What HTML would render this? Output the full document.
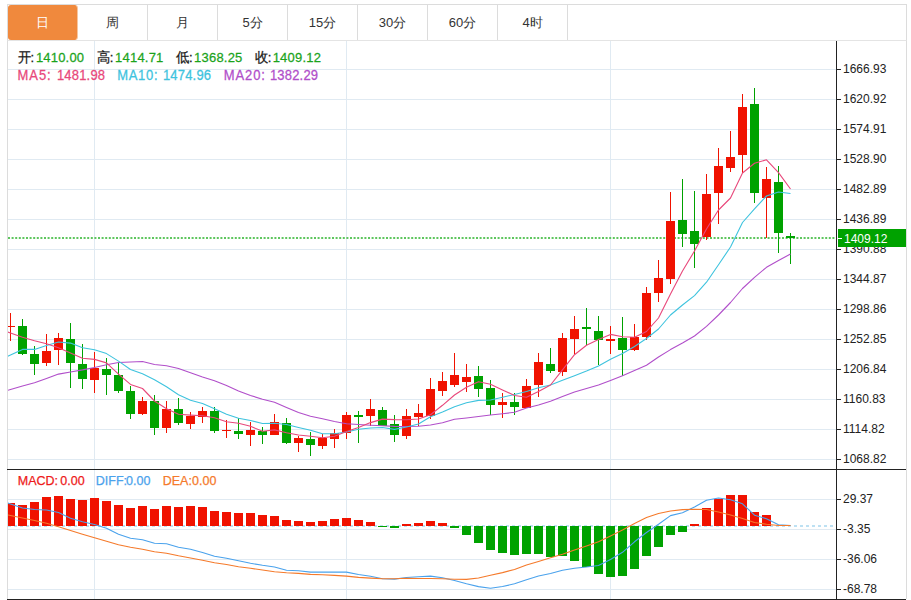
<!DOCTYPE html>
<html><head><meta charset="utf-8"><style>
html,body{margin:0;padding:0;background:#fff;width:911px;height:600px;overflow:hidden;}
body{position:relative;font-family:"Liberation Sans",sans-serif;}
svg{position:absolute;left:0;top:0;}
.tabs{position:absolute;left:7px;top:4px;width:898px;height:35px;border:1px solid #dcdcdc;border-bottom:1px solid #e4e4e4;}
.tab{position:absolute;top:0;height:35px;width:69px;border-right:1px solid #dcdcdc;font-size:13px;color:#333;text-align:center;line-height:35px;}
.tab.on{background:#f0893d;color:#fff;border-radius:3px;border-right-color:#f6c6a0;background-clip:padding-box;}
.panel{position:absolute;left:7px;top:40px;width:898px;height:559px;border-left:1px solid #dcdcdc;border-right:1px solid #dcdcdc;}
.ax{position:absolute;left:843px;font-size:12px;line-height:14px;color:#222;white-space:nowrap;}
.t{position:absolute;font-size:13px;line-height:15px;white-space:nowrap;-webkit-text-stroke:0.25px currentColor;} .g,.v{letter-spacing:0.2px}
.k{color:#1a1a1a} .g{color:#1ba31b} .m{top:474px;font-size:12.5px}
</style></head><body>
<div class="panel"></div>
<svg width="911" height="600" viewBox="0 0 911 600">
<defs><clipPath id="cp"><rect x="8" y="41" width="828" height="558"/></clipPath></defs>
<rect x="8" y="69" width="828" height="1" fill="#e0eaf2"/><rect x="8" y="99" width="828" height="1" fill="#e0eaf2"/><rect x="8" y="129" width="828" height="1" fill="#e0eaf2"/><rect x="8" y="159" width="828" height="1" fill="#e0eaf2"/><rect x="8" y="189" width="828" height="1" fill="#e0eaf2"/><rect x="8" y="219" width="828" height="1" fill="#e0eaf2"/><rect x="8" y="249" width="828" height="1" fill="#e0eaf2"/><rect x="8" y="279" width="828" height="1" fill="#e0eaf2"/><rect x="8" y="309" width="828" height="1" fill="#e0eaf2"/><rect x="8" y="339" width="828" height="1" fill="#e0eaf2"/><rect x="8" y="369" width="828" height="1" fill="#e0eaf2"/><rect x="8" y="399" width="828" height="1" fill="#e0eaf2"/><rect x="8" y="429" width="828" height="1" fill="#e0eaf2"/><rect x="8" y="459" width="828" height="1" fill="#e0eaf2"/><rect x="8" y="499" width="828" height="1" fill="#e0eaf2"/><rect x="8" y="529" width="828" height="1" fill="#e0eaf2"/><rect x="8" y="559" width="828" height="1" fill="#e0eaf2"/><rect x="8" y="589" width="828" height="1" fill="#e0eaf2"/><rect x="94" y="41" width="1" height="558" fill="#e0eaf2"/><rect x="346" y="41" width="1" height="558" fill="#e0eaf2"/><rect x="610" y="41" width="1" height="558" fill="#e0eaf2"/><line x1="8" y1="238" x2="836" y2="238" stroke="#5ec65e" stroke-width="2" stroke-dasharray="2 1.6"/><line x1="8" y1="526" x2="836" y2="526" stroke="#a8d8f0" stroke-width="1.5" stroke-dasharray="3 3"/><g clip-path="url(#cp)" shape-rendering="crispEdges"><rect x="10" y="313" width="1" height="28" fill="#f01200"/><rect x="6" y="326" width="9" height="1" fill="#f01200"/><rect x="22" y="319" width="1" height="36" fill="#00a200"/><rect x="18" y="326" width="9" height="28" fill="#00a200"/><rect x="34" y="346" width="1" height="29" fill="#00a200"/><rect x="30" y="354" width="9" height="10" fill="#00a200"/><rect x="46" y="334" width="1" height="32" fill="#f01200"/><rect x="42" y="351" width="9" height="12" fill="#f01200"/><rect x="58" y="333" width="1" height="32" fill="#f01200"/><rect x="54" y="338" width="9" height="12" fill="#f01200"/><rect x="70" y="323" width="1" height="65" fill="#00a200"/><rect x="66" y="339" width="9" height="24" fill="#00a200"/><rect x="82" y="344" width="1" height="45" fill="#00a200"/><rect x="78" y="364" width="9" height="15" fill="#00a200"/><rect x="94" y="352" width="1" height="41" fill="#f01200"/><rect x="90" y="368" width="9" height="12" fill="#f01200"/><rect x="106" y="358" width="1" height="37" fill="#00a200"/><rect x="102" y="369" width="9" height="6" fill="#00a200"/><rect x="118" y="362" width="1" height="31" fill="#00a200"/><rect x="114" y="375" width="9" height="16" fill="#00a200"/><rect x="130" y="386" width="1" height="33" fill="#00a200"/><rect x="126" y="391" width="9" height="23" fill="#00a200"/><rect x="142" y="397" width="1" height="18" fill="#f01200"/><rect x="138" y="401" width="9" height="13" fill="#f01200"/><rect x="154" y="395" width="1" height="40" fill="#00a200"/><rect x="150" y="401" width="9" height="27" fill="#00a200"/><rect x="166" y="401" width="1" height="32" fill="#f01200"/><rect x="162" y="409" width="9" height="19" fill="#f01200"/><rect x="178" y="398" width="1" height="27" fill="#00a200"/><rect x="174" y="409" width="9" height="14" fill="#00a200"/><rect x="190" y="412" width="1" height="17" fill="#f01200"/><rect x="186" y="416" width="9" height="8" fill="#f01200"/><rect x="202" y="407" width="1" height="16" fill="#f01200"/><rect x="198" y="411" width="9" height="6" fill="#f01200"/><rect x="214" y="407" width="1" height="26" fill="#00a200"/><rect x="210" y="411" width="9" height="20" fill="#00a200"/><rect x="226" y="420" width="1" height="18" fill="#f01200"/><rect x="222" y="430" width="9" height="1" fill="#f01200"/><rect x="238" y="418" width="1" height="21" fill="#00a200"/><rect x="234" y="431" width="9" height="3" fill="#00a200"/><rect x="250" y="422" width="1" height="24" fill="#f01200"/><rect x="246" y="430" width="9" height="5" fill="#f01200"/><rect x="262" y="427" width="1" height="17" fill="#00a200"/><rect x="258" y="431" width="9" height="4" fill="#00a200"/><rect x="274" y="414" width="1" height="21" fill="#f01200"/><rect x="270" y="422" width="9" height="13" fill="#f01200"/><rect x="286" y="418" width="1" height="26" fill="#00a200"/><rect x="282" y="423" width="9" height="20" fill="#00a200"/><rect x="298" y="436" width="1" height="16" fill="#f01200"/><rect x="294" y="438" width="9" height="5" fill="#f01200"/><rect x="310" y="432" width="1" height="24" fill="#00a200"/><rect x="306" y="439" width="9" height="6" fill="#00a200"/><rect x="322" y="434" width="1" height="15" fill="#f01200"/><rect x="318" y="438" width="9" height="8" fill="#f01200"/><rect x="334" y="429" width="1" height="19" fill="#f01200"/><rect x="330" y="433" width="9" height="6" fill="#f01200"/><rect x="346" y="412" width="1" height="27" fill="#f01200"/><rect x="342" y="415" width="9" height="18" fill="#f01200"/><rect x="358" y="411" width="1" height="32" fill="#00a200"/><rect x="354" y="415" width="9" height="2" fill="#00a200"/><rect x="370" y="399" width="1" height="27" fill="#f01200"/><rect x="366" y="409" width="9" height="7" fill="#f01200"/><rect x="382" y="407" width="1" height="19" fill="#00a200"/><rect x="378" y="410" width="9" height="16" fill="#00a200"/><rect x="394" y="415" width="1" height="27" fill="#00a200"/><rect x="390" y="424" width="9" height="11" fill="#00a200"/><rect x="406" y="409" width="1" height="30" fill="#f01200"/><rect x="402" y="416" width="9" height="20" fill="#f01200"/><rect x="418" y="404" width="1" height="22" fill="#f01200"/><rect x="414" y="413" width="9" height="4" fill="#f01200"/><rect x="430" y="378" width="1" height="41" fill="#f01200"/><rect x="426" y="389" width="9" height="27" fill="#f01200"/><rect x="442" y="372" width="1" height="24" fill="#f01200"/><rect x="438" y="381" width="9" height="10" fill="#f01200"/><rect x="454" y="353" width="1" height="34" fill="#f01200"/><rect x="450" y="375" width="9" height="10" fill="#f01200"/><rect x="466" y="364" width="1" height="28" fill="#f01200"/><rect x="462" y="377" width="9" height="5" fill="#f01200"/><rect x="478" y="366" width="1" height="31" fill="#00a200"/><rect x="474" y="376" width="9" height="13" fill="#00a200"/><rect x="490" y="380" width="1" height="35" fill="#00a200"/><rect x="486" y="388" width="9" height="17" fill="#00a200"/><rect x="502" y="393" width="1" height="25" fill="#f01200"/><rect x="498" y="402" width="9" height="3" fill="#f01200"/><rect x="514" y="393" width="1" height="22" fill="#00a200"/><rect x="510" y="402" width="9" height="5" fill="#00a200"/><rect x="526" y="379" width="1" height="29" fill="#f01200"/><rect x="522" y="386" width="9" height="22" fill="#f01200"/><rect x="538" y="353" width="1" height="44" fill="#f01200"/><rect x="534" y="362" width="9" height="23" fill="#f01200"/><rect x="550" y="348" width="1" height="25" fill="#00a200"/><rect x="546" y="364" width="9" height="7" fill="#00a200"/><rect x="562" y="333" width="1" height="43" fill="#f01200"/><rect x="558" y="338" width="9" height="34" fill="#f01200"/><rect x="574" y="316" width="1" height="38" fill="#f01200"/><rect x="570" y="329" width="9" height="10" fill="#f01200"/><rect x="586" y="308" width="1" height="37" fill="#00a200"/><rect x="582" y="327" width="9" height="2" fill="#00a200"/><rect x="598" y="316" width="1" height="49" fill="#00a200"/><rect x="594" y="331" width="9" height="9" fill="#00a200"/><rect x="610" y="326" width="1" height="28" fill="#f01200"/><rect x="606" y="339" width="9" height="2" fill="#f01200"/><rect x="622" y="317" width="1" height="59" fill="#00a200"/><rect x="618" y="338" width="9" height="12" fill="#00a200"/><rect x="634" y="324" width="1" height="27" fill="#f01200"/><rect x="630" y="337" width="9" height="13" fill="#f01200"/><rect x="646" y="287" width="1" height="53" fill="#f01200"/><rect x="642" y="293" width="9" height="44" fill="#f01200"/><rect x="658" y="260" width="1" height="42" fill="#f01200"/><rect x="654" y="278" width="9" height="15" fill="#f01200"/><rect x="670" y="192" width="1" height="92" fill="#f01200"/><rect x="666" y="221" width="9" height="58" fill="#f01200"/><rect x="682" y="179" width="1" height="68" fill="#00a200"/><rect x="678" y="220" width="9" height="14" fill="#00a200"/><rect x="694" y="191" width="1" height="77" fill="#00a200"/><rect x="690" y="231" width="9" height="13" fill="#00a200"/><rect x="706" y="174" width="1" height="66" fill="#f01200"/><rect x="702" y="194" width="9" height="43" fill="#f01200"/><rect x="718" y="148" width="1" height="76" fill="#f01200"/><rect x="714" y="166" width="9" height="27" fill="#f01200"/><rect x="730" y="131" width="1" height="41" fill="#f01200"/><rect x="726" y="157" width="9" height="11" fill="#f01200"/><rect x="742" y="94" width="1" height="79" fill="#f01200"/><rect x="738" y="107" width="9" height="48" fill="#f01200"/><rect x="754" y="88" width="1" height="115" fill="#00a200"/><rect x="750" y="104" width="9" height="89" fill="#00a200"/><rect x="766" y="167" width="1" height="71" fill="#f01200"/><rect x="762" y="179" width="9" height="19" fill="#f01200"/><rect x="778" y="166" width="1" height="87" fill="#00a200"/><rect x="774" y="182" width="9" height="51" fill="#00a200"/><rect x="790" y="233" width="1" height="31" fill="#00a200"/><rect x="786" y="236" width="9" height="2" fill="#00a200"/><rect x="6" y="503" width="9" height="23" fill="#f01200"/><rect x="18" y="505" width="9" height="21" fill="#f01200"/><rect x="30" y="502" width="9" height="24" fill="#f01200"/><rect x="42" y="497" width="9" height="29" fill="#f01200"/><rect x="54" y="496" width="9" height="30" fill="#f01200"/><rect x="66" y="499" width="9" height="27" fill="#f01200"/><rect x="78" y="500" width="9" height="26" fill="#f01200"/><rect x="90" y="498" width="9" height="28" fill="#f01200"/><rect x="102" y="501" width="9" height="25" fill="#f01200"/><rect x="114" y="505" width="9" height="21" fill="#f01200"/><rect x="126" y="508" width="9" height="18" fill="#f01200"/><rect x="138" y="506" width="9" height="20" fill="#f01200"/><rect x="150" y="509" width="9" height="17" fill="#f01200"/><rect x="162" y="506" width="9" height="20" fill="#f01200"/><rect x="174" y="507" width="9" height="19" fill="#f01200"/><rect x="186" y="506" width="9" height="20" fill="#f01200"/><rect x="198" y="507" width="9" height="19" fill="#f01200"/><rect x="210" y="511" width="9" height="15" fill="#f01200"/><rect x="222" y="512" width="9" height="14" fill="#f01200"/><rect x="234" y="513" width="9" height="13" fill="#f01200"/><rect x="246" y="513" width="9" height="13" fill="#f01200"/><rect x="258" y="515" width="9" height="11" fill="#f01200"/><rect x="270" y="516" width="9" height="10" fill="#f01200"/><rect x="282" y="520" width="9" height="6" fill="#f01200"/><rect x="294" y="521" width="9" height="5" fill="#f01200"/><rect x="306" y="522" width="9" height="4" fill="#f01200"/><rect x="318" y="521" width="9" height="5" fill="#f01200"/><rect x="330" y="519" width="9" height="7" fill="#f01200"/><rect x="342" y="518" width="9" height="8" fill="#f01200"/><rect x="354" y="520" width="9" height="6" fill="#f01200"/><rect x="366" y="522" width="9" height="4" fill="#f01200"/><rect x="378" y="526" width="9" height="1" fill="#00a200"/><rect x="390" y="526" width="9" height="2" fill="#00a200"/><rect x="402" y="524" width="9" height="2" fill="#f01200"/><rect x="414" y="523" width="9" height="3" fill="#f01200"/><rect x="426" y="521" width="9" height="5" fill="#f01200"/><rect x="438" y="523" width="9" height="3" fill="#f01200"/><rect x="450" y="526" width="9" height="2" fill="#00a200"/><rect x="462" y="526" width="9" height="9" fill="#00a200"/><rect x="474" y="526" width="9" height="17" fill="#00a200"/><rect x="486" y="526" width="9" height="24" fill="#00a200"/><rect x="498" y="526" width="9" height="27" fill="#00a200"/><rect x="510" y="526" width="9" height="29" fill="#00a200"/><rect x="522" y="526" width="9" height="28" fill="#00a200"/><rect x="534" y="526" width="9" height="28" fill="#00a200"/><rect x="546" y="526" width="9" height="31" fill="#00a200"/><rect x="558" y="526" width="9" height="30" fill="#00a200"/><rect x="570" y="526" width="9" height="35" fill="#00a200"/><rect x="582" y="526" width="9" height="41" fill="#00a200"/><rect x="594" y="526" width="9" height="48" fill="#00a200"/><rect x="606" y="526" width="9" height="51" fill="#00a200"/><rect x="618" y="526" width="9" height="50" fill="#00a200"/><rect x="630" y="526" width="9" height="43" fill="#00a200"/><rect x="642" y="526" width="9" height="30" fill="#00a200"/><rect x="654" y="526" width="9" height="21" fill="#00a200"/><rect x="666" y="526" width="9" height="9" fill="#00a200"/><rect x="678" y="526" width="9" height="6" fill="#00a200"/><rect x="690" y="524" width="9" height="2" fill="#f01200"/><rect x="702" y="508" width="9" height="18" fill="#f01200"/><rect x="714" y="499" width="9" height="27" fill="#f01200"/><rect x="726" y="495" width="9" height="31" fill="#f01200"/><rect x="738" y="495" width="9" height="31" fill="#f01200"/><rect x="750" y="512" width="9" height="14" fill="#f01200"/><rect x="762" y="515" width="9" height="11" fill="#f01200"/></g><g clip-path="url(#cp)"><polyline points="-1.5,393.0 10.5,389.5 22.5,386.0 34.5,382.8 46.5,378.5 58.5,374.1 70.5,372.0 82.5,369.9 94.5,367.5 106.5,364.8 118.5,362.5 130.5,362.0 142.5,361.5 154.5,364.5 166.5,365.7 178.5,368.5 190.5,372.7 202.5,376.9 214.5,380.8 226.5,385.5 238.5,390.9 250.5,395.5 262.5,399.2 274.5,402.3 286.5,407.5 298.5,412.4 310.5,416.3 322.5,418.7 334.5,421.5 346.5,423.8 358.5,424.5 370.5,425.2 382.5,425.8 394.5,426.4 406.5,426.5 418.5,426.2 430.5,425.0 442.5,422.7 454.5,419.3 466.5,418.0 478.5,416.5 490.5,415.0 502.5,413.7 514.5,412.3 526.5,408.0 538.5,405.0 550.5,401.3 562.5,396.5 574.5,392.0 586.5,388.5 598.5,385.0 610.5,380.5 622.5,375.7 634.5,370.5 646.5,365.2 658.5,357.0 670.5,349.6 682.5,343.0 694.5,336.0 706.5,326.4 718.5,315.0 730.5,302.5 742.5,288.5 754.5,277.3 766.5,267.3 778.5,260.5 790.5,254.0" fill="none" stroke="#b14fca" stroke-width="1.1" stroke-linejoin="round"/><polyline points="-1.5,360.6 10.5,355.0 22.5,349.4 34.5,349.4 46.5,345.5 58.5,342.0 70.5,343.1 82.5,347.8 94.5,349.7 106.5,353.6 118.5,361.1 130.5,369.5 142.5,373.8 154.5,379.7 166.5,386.7 178.5,394.8 190.5,400.2 202.5,403.5 214.5,408.8 226.5,414.2 238.5,418.2 250.5,420.5 262.5,423.5 274.5,423.3 286.5,424.5 298.5,427.5 310.5,430.3 322.5,433.8 334.5,433.8 346.5,432.0 358.5,429.2 370.5,428.0 382.5,427.5 394.5,429.4 406.5,427.0 418.5,424.0 430.5,416.7 442.5,412.0 454.5,406.7 466.5,402.7 478.5,400.4 490.5,400.0 502.5,397.3 514.5,394.5 526.5,391.5 538.5,387.8 550.5,385.0 562.5,380.3 574.5,375.7 586.5,371.0 598.5,365.9 610.5,359.3 622.5,353.5 634.5,346.5 646.5,338.5 658.5,329.0 670.5,315.0 682.5,305.0 694.5,295.6 706.5,282.2 718.5,264.7 730.5,247.0 742.5,222.5 754.5,208.8 766.5,196.0 778.5,192.0 790.5,193.5" fill="none" stroke="#3ec3de" stroke-width="1.1" stroke-linejoin="round"/><polyline points="-1.5,328.7 10.5,333.0 22.5,337.3 34.5,340.8 46.5,343.8 58.5,347.8 70.5,353.1 82.5,358.3 94.5,359.4 106.5,362.9 118.5,374.1 130.5,384.4 142.5,388.5 154.5,401.0 166.5,408.8 178.5,414.2 190.5,415.1 202.5,415.8 214.5,417.7 226.5,421.7 238.5,423.3 250.5,426.3 262.5,431.2 274.5,429.9 286.5,432.7 298.5,435.0 310.5,436.2 322.5,437.8 334.5,436.2 346.5,431.5 358.5,427.5 370.5,422.6 382.5,419.1 394.5,419.6 406.5,419.8 418.5,419.0 430.5,414.7 442.5,405.3 454.5,395.0 466.5,387.3 478.5,381.7 490.5,384.3 502.5,389.9 514.5,395.5 526.5,397.2 538.5,391.5 550.5,385.0 562.5,369.8 574.5,354.7 586.5,345.3 598.5,339.5 610.5,334.4 622.5,336.7 634.5,337.2 646.5,331.5 658.5,318.0 670.5,294.0 682.5,271.0 694.5,251.0 706.5,229.0 718.5,210.0 730.5,198.0 742.5,173.0 754.5,163.3 766.5,159.8 778.5,172.7 790.5,189.0" fill="none" stroke="#e8487b" stroke-width="1.1" stroke-linejoin="round"/><polyline points="-1.5,500.0 10.5,504.0 22.5,508.0 34.5,509.5 46.5,510.0 58.5,512.5 70.5,518.3 82.5,521.7 94.5,524.5 106.5,528.3 118.5,534.2 130.5,538.3 142.5,539.7 154.5,543.3 166.5,543.8 178.5,547.2 190.5,549.2 202.5,552.5 214.5,556.3 226.5,558.3 238.5,560.8 250.5,563.3 262.5,565.3 274.5,567.0 286.5,570.2 298.5,570.8 310.5,572.1 322.5,572.1 334.5,572.1 346.5,572.1 358.5,574.5 370.5,576.3 382.5,578.7 394.5,579.1 406.5,577.5 418.5,576.8 430.5,576.1 442.5,577.8 454.5,580.5 466.5,583.8 478.5,586.6 490.5,588.2 502.5,586.5 514.5,583.8 526.5,579.7 538.5,576.0 550.5,573.5 562.5,570.3 574.5,568.2 586.5,567.0 598.5,565.5 610.5,559.5 622.5,552.3 634.5,541.8 646.5,532.5 658.5,524.3 670.5,515.6 682.5,512.7 694.5,507.0 706.5,500.2 718.5,498.0 730.5,499.8 742.5,503.8 754.5,515.2 766.5,518.7 778.5,524.8 790.5,525.5" fill="none" stroke="#4aa2ec" stroke-width="1.1" stroke-linejoin="round"/><polyline points="-1.5,513.0 10.5,515.5 22.5,518.0 34.5,520.5 46.5,523.3 58.5,526.7 70.5,530.5 82.5,534.2 94.5,537.8 106.5,541.3 118.5,544.7 130.5,547.2 142.5,549.2 154.5,551.7 166.5,553.3 178.5,555.8 190.5,558.0 202.5,560.3 214.5,562.8 226.5,564.5 238.5,566.7 250.5,568.3 262.5,570.0 274.5,571.7 286.5,572.8 298.5,573.4 310.5,574.4 322.5,574.8 334.5,575.4 346.5,576.1 358.5,577.4 370.5,578.1 382.5,578.7 394.5,578.7 406.5,578.3 418.5,578.5 430.5,578.5 442.5,578.7 454.5,579.3 466.5,579.4 478.5,578.0 490.5,575.3 502.5,572.6 514.5,569.5 526.5,565.0 538.5,561.5 550.5,557.8 562.5,554.2 574.5,550.0 586.5,546.0 598.5,541.8 610.5,536.0 622.5,530.0 634.5,523.5 646.5,517.5 658.5,513.5 670.5,511.0 682.5,509.6 694.5,509.2 706.5,509.5 718.5,512.0 730.5,515.0 742.5,518.5 754.5,522.5 766.5,524.3 778.5,525.5 790.5,525.5" fill="none" stroke="#f57a2b" stroke-width="1.1" stroke-linejoin="round"/></g><rect x="836" y="41" width="1" height="559" fill="#222"/><rect x="7" y="469" width="899" height="1" fill="#222"/><rect x="7" y="599" width="899" height="1" fill="#222"/><rect x="837" y="69" width="4" height="1" fill="#222"/><rect x="837" y="99" width="4" height="1" fill="#222"/><rect x="837" y="129" width="4" height="1" fill="#222"/><rect x="837" y="159" width="4" height="1" fill="#222"/><rect x="837" y="189" width="4" height="1" fill="#222"/><rect x="837" y="219" width="4" height="1" fill="#222"/><rect x="837" y="249" width="4" height="1" fill="#222"/><rect x="837" y="279" width="4" height="1" fill="#222"/><rect x="837" y="309" width="4" height="1" fill="#222"/><rect x="837" y="339" width="4" height="1" fill="#222"/><rect x="837" y="369" width="4" height="1" fill="#222"/><rect x="837" y="399" width="4" height="1" fill="#222"/><rect x="837" y="429" width="4" height="1" fill="#222"/><rect x="837" y="459" width="4" height="1" fill="#222"/><rect x="837" y="499" width="4" height="1" fill="#222"/><rect x="837" y="529" width="4" height="1" fill="#222"/><rect x="837" y="559" width="4" height="1" fill="#222"/><rect x="837" y="589" width="4" height="1" fill="#222"/>
</svg>
<div class="tabs">
<div class="tab on" style="left:0">日</div>
<div class="tab" style="left:70px">周</div>
<div class="tab" style="left:140px">月</div>
<div class="tab" style="left:210px">5分</div>
<div class="tab" style="left:280px">15分</div>
<div class="tab" style="left:350px">30分</div>
<div class="tab" style="left:420px">60分</div>
<div class="tab" style="left:490px">4时</div>
</div>
<div class="ax" style="top:62px">1666.93</div><div class="ax" style="top:92px">1620.92</div><div class="ax" style="top:122px">1574.91</div><div class="ax" style="top:152px">1528.90</div><div class="ax" style="top:182px">1482.89</div><div class="ax" style="top:212px">1436.89</div><div class="ax" style="top:242px">1390.88</div><div class="ax" style="top:272px">1344.87</div><div class="ax" style="top:302px">1298.86</div><div class="ax" style="top:332px">1252.85</div><div class="ax" style="top:362px">1206.84</div><div class="ax" style="top:392px">1160.83</div><div class="ax" style="top:422px">1114.82</div><div class="ax" style="top:452px">1068.82</div><div class="ax" style="top:492px">29.37</div><div class="ax" style="top:522px">-3.35</div><div class="ax" style="top:552px">-36.06</div><div class="ax" style="top:582px">-68.78</div>
<div style="position:absolute;left:838px;top:229px;width:68px;height:18px;background:#00a200"></div><div style="position:absolute;left:838px;top:238px;width:4px;height:1px;background:#fff"></div><div class="ax" style="top:232px;left:844px;color:#fff">1409.12</div>
<div class="t k" style="left:17.5px;top:49.8px;transform:scaleY(1.05);transform-origin:0 12px">开:</div><div class="t g" style="left:35.9px;top:49.8px;transform:scaleY(1.05);transform-origin:0 12px">1410.00</div>
<div class="t k" style="left:96.7px;top:49.8px;transform:scaleY(1.05);transform-origin:0 12px">高:</div><div class="t g" style="left:115.1px;top:49.8px;transform:scaleY(1.05);transform-origin:0 12px">1414.71</div>
<div class="t k" style="left:175.9px;top:49.8px;transform:scaleY(1.05);transform-origin:0 12px">低:</div><div class="t g" style="left:194.1px;top:49.8px;transform:scaleY(1.05);transform-origin:0 12px">1368.25</div>
<div class="t k" style="left:254.8px;top:49.8px;transform:scaleY(1.05);transform-origin:0 12px">收:</div><div class="t g" style="left:272.7px;top:49.8px;transform:scaleY(1.05);transform-origin:0 12px">1409.12</div>
<div class="t" style="left:17.6px;top:68px;transform:scaleY(1.08);transform-origin:0 12px;color:#e8487b;letter-spacing:0.9px">MA5:</div><div class="t v" style="left:56.9px;top:68px;transform:scaleY(1.08);transform-origin:0 12px;color:#e8487b">1481.98</div>
<div class="t" style="left:117.2px;top:68px;transform:scaleY(1.08);transform-origin:0 12px;color:#3ec3de;letter-spacing:0.7px">MA10:</div><div class="t v" style="left:162.9px;top:68px;transform:scaleY(1.08);transform-origin:0 12px;color:#3ec3de">1474.96</div>
<div class="t" style="left:223.8px;top:68px;transform:scaleY(1.08);transform-origin:0 12px;color:#b14fca;letter-spacing:0.9px">MA20:</div><div class="t v" style="left:269.9px;top:68px;transform:scaleY(1.08);transform-origin:0 12px;color:#b14fca">1382.29</div>
<div class="t m" style="left:17.8px;color:#ee1a1a">MACD:</div><div class="t m" style="left:60.3px;color:#ee1a1a">0.00</div>
<div class="t m" style="left:95.8px;color:#4aa2ec">DIFF:</div><div class="t m" style="left:126px;color:#4aa2ec">0.00</div>
<div class="t m" style="left:162.7px;color:#f57a2b">DEA:</div><div class="t m" style="left:192px;color:#f57a2b">0.00</div>
</body></html>
